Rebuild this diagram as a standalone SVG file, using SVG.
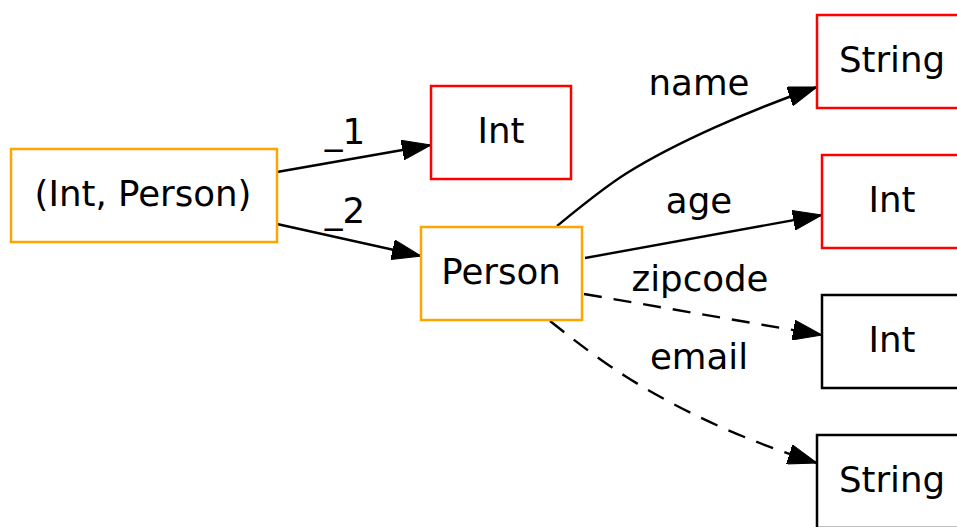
<svg xmlns="http://www.w3.org/2000/svg" width="957" height="527" viewBox="0 0 957 527">
<style>
  text { font-family: "DejaVu Sans", "Liberation Sans", sans-serif; font-size: 35.6px; fill: #000; text-anchor: middle; }
  .node rect { fill: #fff; stroke-width: 2.5; }
  .orange rect { stroke: #ffa500; }
  .red rect { stroke: #ff0000; }
  .black rect { stroke: #000; }
  .edge { fill: none; stroke: #000; stroke-width: 2.4; marker-end: url(#arrow); }
  .dashed { stroke-dasharray: 18 12; }
</style>
<defs>
  <marker id="arrow" markerUnits="userSpaceOnUse" markerWidth="30" markerHeight="20" viewBox="0 0 30 20" refX="29" refY="10" orient="auto">
    <path d="M0,0 L29,10 L0,20 Z" fill="#000" stroke="#000" stroke-width="1"/>
  </marker>
</defs>
<rect width="957" height="527" fill="#fff"/>
<g id="connectors">
  <path class="edge" d="M277,172 L431,145"/>
  <text x="345" y="144">_1</text>
  <path class="edge" d="M277,224 L421,256"/>
  <text x="345" y="223">_2</text>
  <path class="edge" d="M557,226 C579,208 603,188 627,173 C675,143 750,110 817,87"/>
  <text x="699" y="95">name</text>
  <path class="edge" d="M585,258 L822,215"/>
  <text x="699" y="213">age</text>
  <path class="edge dashed" d="M584,294 L822,335"/>
  <text x="700" y="291">zipcode</text>
  <path class="edge dashed" d="M550,321 C575,341 600,360 625,376 C685,414 750,442 817,463"/>
  <text x="699" y="369">email</text>
</g>
<g id="tuple" class="node orange">
  <rect x="11" y="149" width="266" height="93"/>
  <text x="143" y="206">(Int, Person)</text>
</g>
<g id="int1" class="node red">
  <rect x="431" y="86" width="140" height="93"/>
  <text x="501" y="143">Int</text>
</g>
<g id="person" class="node orange">
  <rect x="421" y="227" width="161" height="93"/>
  <text x="501" y="284">Person</text>
</g>
<g id="name_string" class="node red">
  <rect x="817" y="15" width="150" height="93"/>
  <text x="892" y="72">String</text>
</g>
<g id="age_int" class="node red">
  <rect x="822" y="155" width="140" height="93"/>
  <text x="892" y="212">Int</text>
</g>
<g id="zipcode_int" class="node black">
  <rect x="822" y="295" width="140" height="93"/>
  <text x="892" y="352">Int</text>
</g>
<g id="email_string" class="node black">
  <rect x="817" y="435" width="150" height="93"/>
  <text x="892" y="492">String</text>
</g>
</svg>
